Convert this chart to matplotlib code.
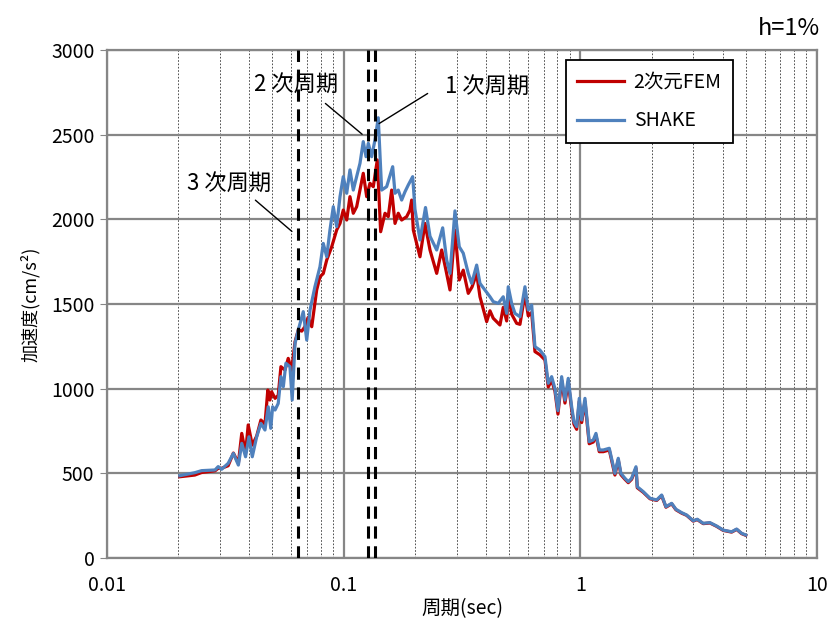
import matplotlib
matplotlib.use("Agg")
import matplotlib.pyplot as plt
from matplotlib.ticker import LogLocator, NullFormatter, FixedLocator

plt.rcParams['font.family'] = ['Noto Sans CJK JP', 'DejaVu Sans']

# SHAKE
shake_T = [0.0203, 0.0235, 0.0251, 0.0286, 0.0295, 0.0305, 0.0325, 0.0342, 0.0359, 0.0371,
           0.0385, 0.0398, 0.0411, 0.0429, 0.0447, 0.0465, 0.0480, 0.0492, 0.0501, 0.0513,
           0.0529, 0.0543, 0.0556, 0.0570, 0.0593, 0.0606, 0.0623, 0.0643, 0.0675, 0.0698,
           0.0721, 0.0756, 0.0794, 0.0820, 0.0848, 0.0875, 0.0904, 0.0934, 0.0965, 0.0996,
           0.1030, 0.1063, 0.1098, 0.1135, 0.1172, 0.1210, 0.1243, 0.1271, 0.1313, 0.1356,
           0.1400, 0.1447, 0.1519, 0.1611, 0.1648, 0.1701, 0.1758, 0.1816, 0.1875, 0.1957,
           0.2001, 0.2101, 0.2217, 0.2316, 0.2472, 0.2620, 0.2724, 0.2813, 0.2953, 0.3079,
           0.3201, 0.3361, 0.3474, 0.3647, 0.3766, 0.3954, 0.4151, 0.4285, 0.4499, 0.4723,
           0.4883, 0.4959, 0.5126, 0.5293, 0.5557, 0.5834, 0.6024, 0.6227, 0.6430, 0.6750,
           0.7087, 0.7318, 0.7564, 0.7811, 0.8042, 0.8337, 0.8610, 0.8889, 0.9189, 0.9397,
           0.9647, 0.9895, 1.013, 1.046, 1.090, 1.134, 1.164, 1.202, 1.250, 1.325,
           1.400, 1.446, 1.484, 1.543, 1.594, 1.647, 1.718, 1.740, 1.844, 1.969,
           2.101, 2.206, 2.300, 2.431, 2.534, 2.679, 2.813, 2.999, 3.118, 3.306,
           3.527, 3.766, 4.016, 4.357, 4.575, 4.801, 5.0]
shake_a = [486, 504, 516, 520, 540, 524, 559, 618, 549, 677,
           598, 716, 598, 716, 795, 756, 893, 766, 893, 874,
           913, 1071, 1012, 1150, 1130, 933, 1268, 1347, 1455, 1287,
           1465, 1602, 1720, 1858, 1779, 1937, 2075, 1957, 2134, 2252,
           2154, 2292, 2173, 2252, 2331, 2459, 2370, 2449, 2370, 2469,
           2600, 2173, 2193, 2311, 2154, 2173, 2114, 2163, 2203, 2252,
           2060, 1878, 2070, 1900, 1819, 1950, 1760, 1681, 2050, 1838,
           1800, 1681, 1622, 1730, 1622, 1583, 1543, 1514, 1504, 1543,
           1445, 1602, 1504, 1445, 1425, 1602, 1465, 1494, 1248, 1228,
           1189, 1032, 1071, 1000, 870, 1071, 933, 1061, 894, 805,
           776, 943, 815, 943, 687, 697, 736, 638, 638, 648,
           500, 589, 500, 471, 451, 471, 539, 421, 392, 353,
           343, 372, 303, 323, 288, 268, 254, 220, 229, 205,
           209, 189, 165, 155, 171, 146, 136]

# 2次元FEM
fem_T = [0.0203, 0.0235, 0.0251, 0.0286, 0.0295, 0.0305, 0.0325, 0.0342, 0.0359, 0.0371,
         0.0385, 0.0395, 0.0411, 0.0429, 0.0447, 0.0465, 0.0478, 0.0488, 0.0496, 0.0513,
         0.0529, 0.0543, 0.0565, 0.0583, 0.0603, 0.0623, 0.0643, 0.0665, 0.0686, 0.0707,
         0.0733, 0.0769, 0.0794, 0.0820, 0.0848, 0.0890, 0.0934, 0.0965, 0.0996, 0.1030,
         0.1063, 0.1098, 0.1135, 0.1172, 0.1210, 0.1251, 0.1291, 0.1334, 0.1387, 0.1433,
         0.1495, 0.1543, 0.1595, 0.1648, 0.1701, 0.1758, 0.1846, 0.1906, 0.1938, 0.1969,
         0.2101, 0.2206, 0.2316, 0.2472, 0.2595, 0.2705, 0.2813, 0.2953, 0.3079, 0.3201,
         0.3361, 0.3484, 0.3647, 0.3766, 0.4020, 0.4151, 0.4285, 0.4575, 0.4723, 0.4883,
         0.4959, 0.5126, 0.5381, 0.5557, 0.5834, 0.6024, 0.6227, 0.6430, 0.6750,
         0.7087, 0.7318, 0.7564, 0.7811, 0.8042, 0.8337, 0.8610, 0.8889, 0.9189, 0.9397,
         0.9647, 0.9895, 1.013, 1.046, 1.090, 1.134, 1.164, 1.202, 1.250, 1.325,
         1.400, 1.446, 1.484, 1.543, 1.594, 1.647, 1.718, 1.740, 1.844, 1.969,
         2.101, 2.206, 2.300, 2.431, 2.534, 2.679, 2.813, 2.999, 3.118, 3.306,
         3.527, 3.766, 4.016, 4.357, 4.575, 4.801, 5.0]
fem_a = [480, 490, 505, 515, 530, 530, 545, 620, 560, 736,
         620, 786, 667, 720, 815, 790, 992, 933, 982, 943,
         960, 1130, 1110, 1179, 1110, 1277, 1347, 1340, 1366, 1420,
         1366, 1583, 1661, 1680, 1760, 1838, 1937, 1976, 2055, 1996,
         2134, 2036, 2075, 2173, 2272, 2134, 2213, 2193, 2351, 1927,
         2036, 2016, 2173, 1976, 2036, 1996, 2016, 2055, 2114, 1937,
         1779, 1976, 1819, 1681, 1819, 1700, 1583, 1937, 1642, 1700,
         1563, 1600, 1680, 1543, 1396, 1460, 1416, 1376, 1480, 1400,
         1560, 1440, 1386, 1380, 1560, 1430, 1450, 1219, 1200,
         1170, 1010, 1050, 985, 850, 1050, 915, 1040, 875, 790,
         760, 925, 800, 925, 675, 685, 725, 628, 628, 638,
         490, 580, 492, 465, 445, 465, 530, 415, 388, 350,
         340, 368, 300, 320, 285, 265, 252, 218, 227, 203,
         207, 187, 163, 153, 169, 144, 134]

mode_T = [0.0641, 0.127, 0.1356]

fig = plt.figure(figsize=(8.32, 6.23), dpi=100)
ax = fig.add_axes([0.1286, 0.1043, 0.8534, 0.8154])

ax.plot(fem_T, fem_a, color='#C00000', lw=2.3, label='2次元FEM', zorder=3)
ax.plot(shake_T, shake_a, color='#4F81BD', lw=2.3, label='SHAKE', zorder=4)

for t in mode_T:
    ax.axvline(t, color='black', lw=2.2, ls=(0, (4, 2.5)), zorder=5)

ax.set_xscale('log')
ax.set_xlim(0.01, 10)
ax.set_ylim(0, 3000)
ax.set_yticks(range(0, 3001, 500))
ax.xaxis.set_major_locator(FixedLocator([0.01, 0.1, 1, 10]))
ax.set_xticklabels(['0.01', '0.1', '1', '10'])
ax.xaxis.set_minor_locator(LogLocator(base=10, subs=range(2, 10)))
ax.xaxis.set_minor_formatter(NullFormatter())

ax.grid(True, which='major', color='#868686', lw=1.6, zorder=1)
ax.grid(True, which='minor', axis='x', color='#333333', lw=0.6, ls=(0, (2, 2)), zorder=1)
for s in ax.spines.values():
    s.set_color('#868686')
    s.set_linewidth(1.6)

ax.tick_params(axis='y', length=5, color='#868686', labelsize=14, pad=4)
ax.tick_params(axis='x', which='both', length=0, labelsize=14, pad=12)

ax.set_xlabel('周期(sec)', fontsize=14, labelpad=2)
ax.set_ylabel('加速度(cm/s²)', fontsize=13, labelpad=8)

leg = ax.legend(loc='upper right', bbox_to_anchor=(0.882, 0.980), borderaxespad=0,
                fontsize=14, frameon=True, fancybox=False, edgecolor='black', framealpha=1,
                handlelength=2.4, handletextpad=0.5, borderpad=0.6, labelspacing=0.9)
leg.get_frame().set_linewidth(1.3)
leg.set_zorder(10)

ax.text(0.0629, 2799, '2 次周期', fontsize=16, ha='center', va='center', zorder=6)
ax.annotate('', xy=(0.1222, 2492), xytext=(0.0820, 2695),
            arrowprops=dict(arrowstyle='-', color='black', lw=1), zorder=6)
ax.text(0.403, 2788, '1 次周期', fontsize=16, ha='center', va='center', zorder=6)
ax.annotate('', xy=(0.1379, 2557), xytext=(0.2316, 2752),
            arrowprops=dict(arrowstyle='-', color='black', lw=1), zorder=6)
ax.text(0.0328, 2215, '3 次周期', fontsize=16, ha='center', va='center', zorder=6)
ax.annotate('', xy=(0.0617, 1918), xytext=(0.0415, 2124),
            arrowprops=dict(arrowstyle='-', color='black', lw=1), zorder=6)

fig.text(0.985, 0.955, 'h=1%', fontsize=17, ha='right', va='center')

fig.savefig('out.png', dpi=100)
